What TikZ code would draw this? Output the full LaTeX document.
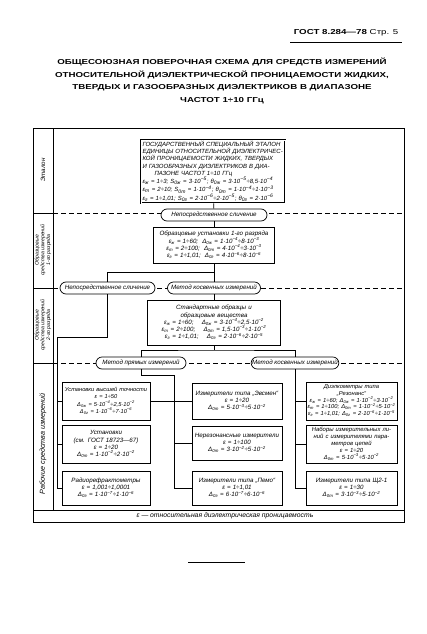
\documentclass[tikz,border=0pt]{standalone}
\usepackage{fontspec}
\setmainfont{Liberation Sans}
\newfontfamily\titlefont[FakeStretch=1.35]{Liberation Sans}
\usetikzlibrary{positioning,calc}
\newcommand{\sbs}[1]{\textsubscript{#1}}
\newcommand{\tenp}[1]{10\textsuperscript{#1}}

\begin{document}
\begin{tikzpicture}[x=1pt, y=-1pt,
    font=\fontsize{6.2}{7.2}\selectfont\itshape,
    line width=0.7pt,
    box/.style={draw, align=center, inner xsep=1.5pt, inner ysep=1pt, fill=white},
    met/.style={draw, rounded corners=6pt, minimum height=12pt, inner sep=1pt, fill=white},
    sep/.style={dashed, dash pattern=on 5pt off 3pt},
    lab/.style={rotate=90, align=center, font=\fontsize{5.2}{5.8}\selectfont\itshape},
  ]
  \useasboundingbox (0,0) rectangle (427,634);

  % header and title
  \node[anchor=east, font=\titlefont\fontsize{7.2}{9}\selectfont\bfseries] (gost) at (402,33)
    {ГОСТ 8.284—78 {\mdseries Стр. 5}};
  \draw (290,42) -- (402,42);
  \node[align=center, font=\titlefont\fontsize{7.2}{12.6}\selectfont\bfseries] (title) at (222,81)
    {ОБЩЕСОЮЗНАЯ ПОВЕРОЧНАЯ СХЕМА ДЛЯ СРЕДСТВ ИЗМЕРЕНИЙ\\
     ОТНОСИТЕЛЬНОЙ ДИЭЛЕКТРИЧЕСКОЙ ПРОНИЦАЕМОСТИ ЖИДКИХ,\\
     ТВЕРДЫХ И ГАЗООБРАЗНЫХ ДИЭЛЕКТРИКОВ В ДИАПАЗОНЕ\\
     ЧАСТОТ 1÷10 ГГц};

  % frame and rows
  \draw[line width=0.9pt] (33,128) rectangle (404,522);
  \draw (53,128) -- (53,510);
  \draw (33,510) -- (404,510);
  \foreach \y in {213,288,363}{
    \draw (33,\y) -- (53,\y);
    \draw[sep] (53,\y) -- (404,\y);
  }
  \node[lab, font=\fontsize{6.2}{7}\selectfont\itshape] (l1) at (43,170) {Эталон};
  \node[lab] (l2) at (43,250) {Образцовые\\средства измерений\\1-го разряда};
  \node[lab] (l3) at (43,325) {Образцовые\\средства измерений\\2-го разряда};
  \node[lab, font=\fontsize{7.2}{8}\selectfont\itshape] (l4) at (43,444) {Рабочие средства измерений};
  \node[font=\fontsize{6.8}{8}\selectfont\itshape] (eps) at (225,516)
    {ε — относительная диэлектрическая проницаемость};

  % etalon
  \node[box, double, double distance=0.9pt, text width=141pt, minimum height=63pt, align=left]
    (etalon) at (213,171.5)
    {\fontsize{6}{7.1}\selectfont
     ГОСУДАРСТВЕННЫЙ СПЕЦИАЛЬНЫЙ ЭТАЛОН\\
     ЕДИНИЦЫ ОТНОСИТЕЛЬНОЙ ДИЭЛЕКТРИЧЕС-\\
     КОЙ ПРОНИЦАЕМОСТИ ЖИДКИХ, ТВЕРДЫХ\\
     И ГАЗООБРАЗНЫХ ДИЭЛЕКТРИКОВ В ДИА-\\
     \hspace*{12pt}ПАЗОНЕ ЧАСТОТ 1÷10 ГГц\\
     ε\sbs{ж} = 1÷3; S\sbs{0ж} = 3·\tenp{−5}; θ\sbs{0ж} = 3·\tenp{−5}÷8,5·\tenp{−4}\\
     ε\sbs{т} = 2÷10; S\sbs{0т} = 1·\tenp{−4}; θ\sbs{0т} = 1·\tenp{−4}÷1·\tenp{−3}\\
     ε\sbs{г} = 1÷1,01; S\sbs{0г} = 2·\tenp{−6}÷2·\tenp{−5}; θ\sbs{0г} = 2·\tenp{−6}};
  \node[met, minimum width=106pt] (cmp1) at (214,215) {Непосредственное сличение};

  % 1st grade
  \node[box, text width=118pt, minimum height=36pt] (set1) at (214,245)
    {Образцовые установки 1-го разряда\\
     ε\sbs{ж} = 1÷60; \ Δ\sbs{0ж} = 1·\tenp{−4}÷8·\tenp{−3}\\
     ε\sbs{т} = 2÷100; \ Δ\sbs{0т} = 4·\tenp{−4}÷3·\tenp{−3}\\
     ε\sbs{г} = 1÷1,01; \ Δ\sbs{0г} = 4·\tenp{−6}÷8·\tenp{−6}};
  \node[met, minimum width=95pt] (cmp2) at (107.5,288) {Непосредственное сличение};
  \node[met, minimum width=93pt] (ind2) at (214,288) {Метод косвенных измерений};

  % 2nd grade
  \node[box, text width=130pt, minimum height=45pt] (std) at (214,322.5)
    {Стандартные образцы и\\образцовые вещества\\
     ε\sbs{ж} = 1÷60; \quad Δ\sbs{0ж} = 3·\tenp{−4}÷2,5·\tenp{−2}\\
     ε\sbs{т} = 2÷100; \quad Δ\sbs{0т} = 1,5·\tenp{−3}÷1·\tenp{−2}\\
     ε\sbs{г} = 1÷1,01; \quad Δ\sbs{0г} = 2·\tenp{−6}÷2·\tenp{−5}};
  \node[met, minimum width=90pt] (dir3) at (141,363) {Метод прямых измерений};
  \node[met, minimum width=86pt] (ind3) at (295,363) {Метод косвенных измерений};

  % working instruments
  \node[box, text width=85pt, minimum height=38pt] (wa1) at (106,401)
    {\fontsize{5.7}{7.2}\selectfont Установки высшей точности\\ε = 1÷50\\
     Δ\sbs{0ж} = 5·\tenp{−4}÷2,5·\tenp{−2}\\Δ\sbs{0г} = 1·\tenp{−6}÷7·\tenp{−6}};
  \node[box, text width=85pt, minimum height=38pt] (wa2) at (106,444)
    {Установки\\(см. ГОСТ 18723—67)\\ε = 1÷20\\Δ\sbs{0т} = 1·\tenp{−2}÷2·\tenp{−2}};
  \node[box, text width=85pt, minimum height=34pt] (wa3) at (106,488)
    {Радиорефрактометры\\ε = 1,001÷1,0001\\Δ\sbs{0г} = 1·\tenp{−7}÷1·\tenp{−6}};
  \node[box, text width=87pt, minimum height=36pt] (wb1) at (237,401)
    {Измерители типа „Эвсмен“\\ε = 1÷20\\Δ\sbs{0т} = 5·\tenp{−3}÷5·\tenp{−2}};
  \node[box, text width=87pt, minimum height=34pt] (wb2) at (237,443)
    {Нерезонансные измерители\\ε = 1÷100\\Δ\sbs{0т} = 3·\tenp{−2}÷5·\tenp{−2}};
  \node[box, text width=87pt, minimum height=34pt] (wb3) at (237,488)
    {Измерители типа „Пемо“\\ε = 1÷1,01\\Δ\sbs{0г} = 6·\tenp{−7}÷6·\tenp{−6}};
  \node[box, text width=88pt, minimum height=38pt] (wc1) at (351.5,401)
    {\fontsize{5.8}{6.6}\selectfont Диэлкометры типа\\„Резонанс“\\
     ε\sbs{ж} = 1÷60; Δ\sbs{0ж} = 1·\tenp{−2}÷3·\tenp{−2}\\
     ε\sbs{т} = 1÷100; Δ\sbs{0т} = 1·\tenp{−2}÷5·\tenp{−2}\\
     ε\sbs{г} = 1÷1,01; Δ\sbs{0г} = 2·\tenp{−6}÷1·\tenp{−5}};
  \node[box, text width=88pt, minimum height=38pt] (wc2) at (351.5,444)
    {\fontsize{5.9}{6.8}\selectfont Наборы измерительных ли-\\ний с измерителями пара-\\метров цепей\\ε = 1÷20\\
     Δ\sbs{0т} = 5·\tenp{−3}÷5·\tenp{−2}};
  \node[box, text width=88pt, minimum height=34pt] (wc3) at (351.5,488)
    {Измерители типа Щ2-1\\ε = 1÷30\\Δ\sbs{0т} = 3·\tenp{−3}÷5·\tenp{−2}};

  % flows
  \coordinate (j1) at (214,272);
  \coordinate (j2) at (214,350);
  \coordinate (busa) at (57,337);
  \coordinate (busb) at (174,375);
  \draw (etalon) -- (cmp1);
  \draw (cmp1) -- (set1);
  \draw (set1) -- (ind2);
  \draw (j1) -| (cmp2.north);
  \draw (ind2) -- (std);
  \draw (std) -- (j2);
  \draw (dir3.north) |- (j2) -| (ind3.north);
  \draw (cmp2.south) |- (busa) -- (busa |- wa3.west) -- (wa3.west);
  \draw (busa |- wa1.west) -- (wa1.west);
  \draw (busa |- wa2.west) -- (wa2.west);
  \draw (dir3.south) |- (busb) -- (busb |- wb3.west) -- (wb3.west);
  \draw (wa1.east) -- (wb1.west);
  \draw (busb |- wb2.west) -- (wb2.west);
  \draw (ind3.south) -- (ind3.south |- wc3.west) -- (wc3.west);
  \draw (ind3.south |- wc1.west) -- (wc1.west);
  \draw (ind3.south |- wc2.west) -- (wc2.west);

  \draw (188,562) -- (245,562);
\end{tikzpicture}
\end{document}
